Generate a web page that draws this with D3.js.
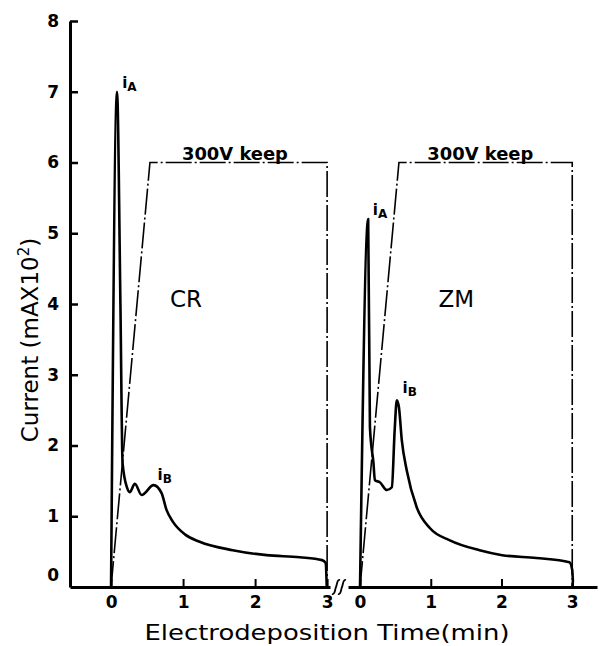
<!DOCTYPE html>
<html>
<head>
<meta charset="utf-8">
<script src="https://cdn.jsdelivr.net/npm/d3@7"></script>
<style>
  html, body { margin: 0; padding: 0; background: #fff; }
  svg { display: block; }
  text { fill: #000; }
</style>
</head>
<body>
<svg id="chart" width="600" height="646"></svg>
<script>
// ---------------- DATA ----------------
const yTickValues = [0, 1, 2, 3, 4, 5, 6, 7, 8];
const xTickValues = [0, 1, 2, 3];

// CR panel: current (mA x 10^2) vs time (min)
const crTime    = [0, 0.083, 0.13, 0.16, 0.22, 0.26, 0.33, 0.425, 0.59, 0.70, 0.77, 0.86, 1.03, 1.23, 1.69, 2.16, 2.62, 2.93, 2.98, 2.995];
const crCurrent = [0, 7.0,   4.0,  1.75, 1.41, 1.34, 1.46, 1.30,  1.44, 1.33, 1.09, 0.92, 0.74, 0.64, 0.52, 0.45, 0.42, 0.38, 0.34, 0];

// ZM panel
const zmTime    = [0, 0.115, 0.14, 0.19, 0.21, 0.28, 0.38, 0.45, 0.49, 0.52, 0.55, 0.59, 0.66, 0.80, 0.99, 1.27, 1.69, 2.01, 2.49, 2.96, 3.0, 3.01, 3.005];
const zmCurrent = [0, 5.2,   2.26, 1.75, 1.51, 1.48, 1.37, 1.41, 2.22, 2.64, 2.54, 2.08, 1.65, 1.13, 0.83, 0.66, 0.52, 0.45, 0.41, 0.35, 0.24, 0.10, 0];

// Applied voltage programme (V): ramp then 300 V keep
const crVoltTime = [0, 0.54, 3.0, 3.0];
const crVolt     = [0, 300, 300, 0];
const zmVoltTime = [0, 0.55, 3.0, 3.0];
const zmVolt     = [0, 300, 300, 0];

const panelLabels = ["CR", "ZM"];
const keepLabel = "300V keep";
const xTitle = "Electrodeposition Time(min)";

// ---------------- CHART ----------------
const svg = d3.select("#chart");
const FONT = "'DejaVu Sans', 'Liberation Sans', sans-serif";

const y  = d3.scaleLinear().domain([0, 8]).range([587, 21]);
const vY = d3.scaleLinear().domain([0, 400]).range([587, 21]);
const xL = d3.scaleLinear().domain([-0.57, 3.04]).range([70, 330]);
const xR = d3.scaleLinear().domain([-0.17, 3.35]).range([348, 597]);

// Y axis
const yAxis = d3.axisLeft(y).tickValues(yTickValues).tickFormat(d3.format("d"))
  .tickSizeInner(-8).tickSizeOuter(0).tickPadding(11);
const gy = svg.append("g").attr("transform", "translate(70,0)").call(yAxis);
gy.select(".domain").attr("stroke", "#000").attr("stroke-width", 3);
gy.selectAll(".tick line").attr("stroke", "#000").attr("stroke-width", 2.5);
gy.selectAll(".tick text").attr("font-family", FONT).attr("font-weight", "bold").attr("font-size", 17).attr("fill", "#000");
gy.selectAll(".tick").filter(d => d === 0).select("line").remove();
gy.selectAll(".tick").filter(d => d === 0).select("text").attr("dy", "-0.4em");

// X axes
function drawXAxis(scale) {
  const ax = d3.axisBottom(scale).tickValues(xTickValues).tickFormat(d3.format("d"))
    .tickSizeInner(-8).tickSizeOuter(0).tickPadding(9);
  const g = svg.append("g").attr("transform", "translate(0,587)").call(ax);
  g.select(".domain").attr("stroke", "#000").attr("stroke-width", 3.2);
  g.selectAll(".tick line").attr("stroke", "#000").attr("stroke-width", 2);
  g.selectAll(".tick text").attr("font-family", FONT).attr("font-weight", "bold").attr("font-size", 17).attr("fill", "#000");
  return g;
}
drawXAxis(xL);
drawXAxis(xR);

// Axis break marks
const breakG = svg.append("g").attr("fill", "none").attr("stroke", "#000").attr("stroke-width", 1.8);
[335, 341].forEach(bx => {
  breakG.append("path").attr("d", `M${bx - 3},${594} C${bx},${595} ${bx},${589} ${bx + 1},${587} S${bx + 2},${579} ${bx + 5},${580}`);
});

// Lines
function drawPanel(xs, times, currents, vTimes, volts) {
  // voltage programme (dash-dot)
  const vPts = vTimes.map((t, i) => [xs(t), vY(volts[i])]);
  svg.append("path")
    .attr("d", d3.line()(vPts))
    .attr("fill", "none").attr("stroke", "#000").attr("stroke-width", 1.6)
    .attr("stroke-dasharray", "26,3,2,3");
  // current
  const cPts = times.map((t, i) => [xs(t), y(currents[i])]);
  svg.append("path")
    .attr("d", d3.line().curve(d3.curveMonotoneX)(cPts))
    .attr("fill", "none").attr("stroke", "#000").attr("stroke-width", 2.6)
    .attr("stroke-linejoin", "round");
}
drawPanel(xL, crTime, crCurrent, crVoltTime, crVolt);
drawPanel(xR, zmTime, zmCurrent, zmVoltTime, zmVolt);

// Peak labels iA / iB
function peakLabel(x, yb, sub) {
  const t = svg.append("text").attr("x", x).attr("y", yb).attr("font-family", FONT).attr("font-size", 15).attr("font-weight", "bold");
  t.append("tspan").text("i");
  t.append("tspan").attr("dy", 3).attr("font-size", 12).text(sub);
}
peakLabel(xL(0.155), 88, "A");
peakLabel(xL(0.645), 480, "B");
peakLabel(xR(0.18), 215, "A");
peakLabel(xR(0.60), 393, "B");

// "300V keep"
function keepText(cx) {
  svg.append("text").attr("x", cx).attr("y", 160).attr("text-anchor", "middle")
    .attr("font-family", FONT).attr("font-weight", "bold").attr("font-size", 18)
    .attr("textLength", 106).attr("lengthAdjust", "spacingAndGlyphs").text(keepLabel);
}
keepText(xL(1.72));
keepText(xR(1.7));

// Panel labels
svg.append("text").attr("x", xL(1.04)).attr("y", 307).attr("text-anchor", "middle")
  .attr("font-family", FONT).attr("font-size", 23).text(panelLabels[0]);
svg.append("text").attr("x", xR(1.36)).attr("y", 307).attr("text-anchor", "middle")
  .attr("font-family", FONT).attr("font-size", 23).text(panelLabels[1]);

// Axis titles
svg.append("text").attr("x", 327).attr("y", 640).attr("text-anchor", "middle")
  .attr("font-family", FONT).attr("font-size", 22)
  .attr("textLength", 365).attr("lengthAdjust", "spacingAndGlyphs").text(xTitle);

const yt = svg.append("text").attr("transform", "translate(38,340) rotate(-90)")
  .attr("text-anchor", "middle").attr("font-family", FONT).attr("font-size", 23);
yt.append("tspan").text("Current (mAX10");
yt.append("tspan").attr("dy", -9).attr("font-size", 15).text("2");
yt.append("tspan").attr("dy", 9).text(")");
</script>
</body>
</html>
